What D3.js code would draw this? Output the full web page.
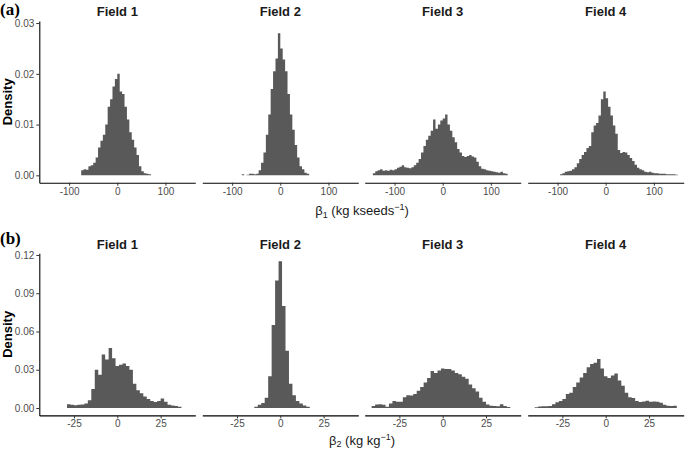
<!DOCTYPE html>
<html><head><meta charset="utf-8">
<script src="https://cdn.jsdelivr.net/npm/d3@7"></script>
<style>
body{margin:0;background:#fff;}
svg{display:block;font-family:"Liberation Sans",Arial,sans-serif;}
</style></head>
<body><svg id="c" width="685" height="450"></svg>
<script>
const fields = ["Field 1", "Field 2", "Field 3", "Field 4"];
// (a) beta1 histograms: bin width 5, density values
const b1BinWidth = 5;
const b1Starts = [-75, -80, -145, -95];
const b1Field1 = [0.0010,0.0012,0.0011,0.0018,0.0020,0.0025,0.0035,0.0055,0.0068,0.0080,0.0100,0.0135,0.0150,0.0175,0.0190,0.0200,0.0165,0.0160,0.0135,0.0110,0.0085,0.0070,0.0055,0.0040,0.0018,0.0008,0.0004,0.0003,0.0002];
const b1Field2 = [0.0002,0,0.0001,0.0003,0.0003,0.0002,0.0003,0.0010,0.0025,0.0045,0.0080,0.0120,0.0170,0.0205,0.0230,0.0280,0.0250,0.0228,0.0205,0.0160,0.0120,0.0090,0.0060,0.0035,0.0018,0.0012,0.0005,0.0003];
const b1Field3 = [0.0004,0.0008,0.0010,0.0012,0.0009,0.0010,0.0009,0.0011,0.0010,0.0012,0.0015,0.0017,0.0020,0.0016,0.0015,0.0014,0.0016,0.0020,0.0025,0.0032,0.0045,0.0058,0.0070,0.0078,0.0088,0.0110,0.0092,0.0100,0.0108,0.0112,0.0120,0.0100,0.0088,0.0075,0.0065,0.0052,0.0045,0.0038,0.0036,0.0038,0.0040,0.0037,0.0035,0.0027,0.0018,0.0013,0.0012,0.0010,0.0009,0.0008,0.0007,0.0006,0.0005,0.0007,0.0004,0.0003];
const b1Field4 = [0.0002,0.0004,0.0007,0.0008,0.0009,0.0012,0.0016,0.0024,0.0032,0.0040,0.0046,0.0054,0.0058,0.0085,0.0098,0.0103,0.0118,0.0150,0.0165,0.0152,0.0135,0.0118,0.0098,0.0082,0.0050,0.0044,0.0046,0.0045,0.0040,0.0034,0.0028,0.0021,0.0015,0.0012,0.0010,0.0007,0.0006,0.0007,0.0005,0.0004,0.0004,0.0003,0.0003,0.0003,0.0002,0.0002,0.0002,0.0002,0.0001];
// (b) beta2 histograms: bin width 2
const b2BinWidth = 2;
const b2Starts = [-29, -15, -41, -41];
const b2Field1 = [0.0030,0.0025,0.0022,0.0025,0.0028,0.0035,0.0060,0.0150,0.0300,0.0260,0.0420,0.0380,0.0470,0.0390,0.0330,0.0340,0.0350,0.0330,0.0300,0.0190,0.0140,0.0115,0.0090,0.0070,0.0055,0.0048,0.0055,0.0075,0.0050,0.0025,0.0020,0.0015,0.0010];
const b2Field2 = [0.0010,0.0025,0.0040,0.0080,0.0250,0.0650,0.1000,0.1150,0.0800,0.0450,0.0190,0.0100,0.0055,0.0035,0.0020,0.0010];
const b2Field3 = [0.0015,0.0028,0.0029,0.0025,0.0010,0.0035,0.0055,0.0050,0.0050,0.0085,0.0100,0.0098,0.0110,0.0135,0.0165,0.0200,0.0235,0.0290,0.0275,0.0295,0.0310,0.0305,0.0305,0.0295,0.0275,0.0265,0.0245,0.0230,0.0185,0.0155,0.0130,0.0080,0.0050,0.0028,0.0018,0.0015,0.0013,0.0030,0.0015,0.0008];
const b2Field4 = [0.0006,0.0012,0.0013,0.0013,0.0015,0.0030,0.0045,0.0055,0.0070,0.0110,0.0120,0.0165,0.0200,0.0240,0.0275,0.0320,0.0345,0.0355,0.0385,0.0310,0.0250,0.0235,0.0255,0.0270,0.0215,0.0175,0.0120,0.0085,0.0078,0.0055,0.0048,0.0052,0.0058,0.0050,0.0052,0.0050,0.0042,0.0025,0.0018,0.0015,0.0018];
const b1XTicks = [-100, 0, 100];
const b1YTicks = [0, 0.01, 0.02, 0.03];
const b2XTicks = [-25, 0, 25];
const b2YTicks = [0, 0.03, 0.06, 0.09, 0.12];

const svg = d3.select("#c");
const panelX = [39.3, 202.3, 364.7, 527.7];
const panelW = 156;

function drawRow(cfg) {
  const x = d3.scaleLinear().domain(cfg.xDomain).range([0, panelW]);
  const y = d3.scaleLinear().domain(cfg.yDomain).range([cfg.bottom, cfg.top]);
  const area = d3.area().curve(d3.curveStepAfter)
    .x(d => x(d[0])).y0(y(0)).y1(d => y(d[1]));
  cfg.data.forEach((vals, i) => {
    const g = svg.append("g").attr("transform", `translate(${panelX[i]},0)`);
    const pts = vals.map((v, j) => [cfg.starts[i] + j * cfg.bw, v]);
    pts.push([cfg.starts[i] + vals.length * cfg.bw, vals[vals.length - 1]]);
    g.append("path").attr("d", area(pts)).attr("fill", "#595959");
    const ax = g.append("g").attr("transform", `translate(0,${cfg.bottom})`)
      .call(d3.axisBottom(x).tickValues(cfg.xTicks).tickSize(3).tickSizeOuter(0).tickPadding(2).tickFormat(d => String(d)));
    ax.select(".domain").attr("stroke", "#000").attr("stroke-width", 1.1);
    ax.selectAll(".tick line").attr("stroke", "#333");
    ax.selectAll("text").attr("font-size", 10).attr("fill", "#4d4d4d").attr("font-family", "Liberation Sans, Arial, sans-serif");
    if (i === 0) {
      const ay = g.append("g")
        .call(d3.axisLeft(y).tickValues(cfg.yTicks).tickSize(3).tickSizeOuter(0).tickPadding(2).tickFormat(cfg.yFmt));
      ay.select(".domain").attr("stroke", "#000").attr("stroke-width", 1.1);
      ay.selectAll(".tick line").attr("stroke", "#333");
      ay.selectAll("text").attr("font-size", 10).attr("fill", "#4d4d4d").attr("font-family", "Liberation Sans, Arial, sans-serif");
    }
    g.append("text").attr("x", panelW / 2).attr("y", cfg.titleY)
      .attr("text-anchor", "middle").attr("font-weight", "bold").attr("font-size", 13)
      .attr("fill", "#1a1a1a").text(fields[i]);
  });
  svg.append("text").attr("transform", `translate(12,${(cfg.top + cfg.bottom) / 2}) rotate(-90)`)
    .attr("text-anchor", "middle").attr("font-weight", "bold").attr("font-size", 13).text("Density");
  svg.append("text").attr("x", 0).attr("y", cfg.labelY)
    .attr("font-family", "Liberation Serif, Times New Roman, serif").attr("font-weight", "bold")
    .attr("font-size", 17).text(cfg.label);
  const t = svg.append("text").attr("x", 362).attr("y", cfg.xTitleY)
    .attr("text-anchor", "middle").attr("font-size", 13).attr("fill", "#1a1a1a");
  t.append("tspan").text("β");
  t.append("tspan").attr("font-size", 9).attr("dy", 2.5).text(cfg.sub);
  t.append("tspan").attr("dy", -2.5).text(cfg.unitA);
  t.append("tspan").attr("font-size", 9).attr("dy", -5).text("−1");
  t.append("tspan").attr("dy", 5).text(")");
}

drawRow({
  data: [b1Field1, b1Field2, b1Field3, b1Field4], starts: b1Starts, bw: b1BinWidth,
  xDomain: [-162, 162], yDomain: [-0.00145, 0.0304], top: 21, bottom: 182.7,
  xTicks: b1XTicks, yTicks: b1YTicks, yFmt: d3.format(".2f"),
  titleY: 15.5, label: "(a)", labelY: 14.5, xTitleY: 215, sub: "1", unitA: " (kg kseeds"
});
drawRow({
  data: [b2Field1, b2Field2, b2Field3, b2Field4], starts: b2Starts, bw: b2BinWidth,
  xDomain: [-45, 45], yDomain: [-0.00578, 0.1213], top: 253.3, bottom: 415.4,
  xTicks: b2XTicks, yTicks: b2YTicks, yFmt: d3.format(".2f"),
  titleY: 248.5, label: "(b)", labelY: 244, xTitleY: 444.5, sub: "2", unitA: " (kg kg"
});
</script></body></html>
